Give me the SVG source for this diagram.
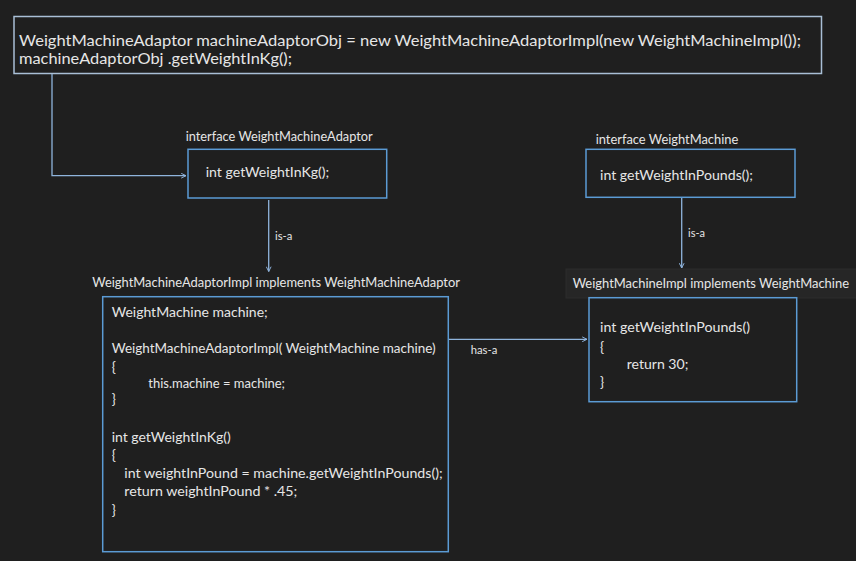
<svg xmlns="http://www.w3.org/2000/svg" width="856" height="561" viewBox="0 0 856 561">
  <defs>
    <marker id="arr" viewBox="0 0 10 10" refX="9" refY="5" markerWidth="6" markerHeight="6" markerUnits="userSpaceOnUse" orient="auto">
      <path d="M1,1 L9,5 L1,9" fill="none" stroke="#8fb4dc" stroke-width="1.6"/>
    </marker>
  </defs>
  <style>
    text { font-family: Lato, "Liberation Sans", sans-serif; fill: #e6e6e6; }
    .box { fill: #1f1f1f; stroke: #5b9bd5; stroke-width: 1.5; }
    .top { fill: #1f1f1f; stroke: #a9bfd6; stroke-width: 1.5; }
    .code { font-size: 13.6px; }
    .lbl { font-size: 12.6px; }
    .small { font-size: 11.5px; }
    .big { font-size: 16px; }
    .conn { fill: none; stroke: #8fb4dc; stroke-width: 1.3; marker-end: url(#arr); }
  </style>
  <rect x="0" y="0" width="856" height="561" fill="#1f1f1f"/>

  <g id="client">
    <rect class="top" x="14" y="16.5" width="807.5" height="57"/>
    <text class="big" x="19" y="45.5" textLength="782" lengthAdjust="spacingAndGlyphs">WeightMachineAdaptor machineAdaptorObj = new WeightMachineAdaptorImpl(new WeightMachineImpl());</text>
    <text class="big" x="19" y="64" textLength="273" lengthAdjust="spacingAndGlyphs">machineAdaptorObj .getWeightInKg();</text>
  </g>

  <g id="iface-adaptor">
    <text class="lbl" x="185.7" y="140.7" textLength="187" lengthAdjust="spacingAndGlyphs">interface WeightMachineAdaptor</text>
    <rect class="box" x="188" y="149.3" width="198.7" height="48.7"/>
    <text class="code" x="205.7" y="177" textLength="123.6" lengthAdjust="spacingAndGlyphs">int getWeightInKg();</text>
  </g>

  <g id="iface-machine">
    <text class="lbl" x="595.7" y="144" textLength="142.6" lengthAdjust="spacingAndGlyphs">interface WeightMachine</text>
    <rect class="box" x="586" y="149.3" width="209" height="48"/>
    <text class="code" x="600" y="180" textLength="153" lengthAdjust="spacingAndGlyphs">int getWeightInPounds();</text>
  </g>

  <g id="adaptor-impl">
    <text class="lbl" x="92.3" y="286.7" textLength="367.7" lengthAdjust="spacingAndGlyphs">WeightMachineAdaptorImpl implements WeightMachineAdaptor</text>
    <rect class="box" x="102.7" y="296.7" width="345.6" height="255"/>
    <text class="code" x="111.7" y="316.7" textLength="156" lengthAdjust="spacingAndGlyphs">WeightMachine machine;</text>
    <text class="code" x="111.7" y="353.3" textLength="324" lengthAdjust="spacingAndGlyphs">WeightMachineAdaptorImpl( WeightMachine machine)</text>
    <text class="code" x="111.7" y="371.7">{</text>
    <text class="code" x="148.3" y="387.7" textLength="136.7" lengthAdjust="spacingAndGlyphs">this.machine = machine;</text>
    <text class="code" x="111.7" y="404">}</text>
    <text class="code" x="111.7" y="441.7" textLength="119" lengthAdjust="spacingAndGlyphs">int getWeightInKg()</text>
    <text class="code" x="111.7" y="460">{</text>
    <text class="code" x="124.3" y="478.3" textLength="318.4" lengthAdjust="spacingAndGlyphs">int weightInPound = machine.getWeightInPounds();</text>
    <text class="code" x="124.3" y="496" textLength="173" lengthAdjust="spacingAndGlyphs">return weightInPound * .45;</text>
    <text class="code" x="111.7" y="515">}</text>
  </g>

  <g id="machine-impl">
    <rect x="566" y="269" width="292" height="29" fill="#262626" stroke="#2c2c2c" stroke-width="1"/>
    <text class="lbl" x="572.7" y="288" textLength="276.3" lengthAdjust="spacingAndGlyphs">WeightMachineImpl implements WeightMachine</text>
    <rect class="box" x="589" y="297.7" width="207.7" height="104"/>
    <text class="code" x="600" y="331.7" textLength="150" lengthAdjust="spacingAndGlyphs">int getWeightInPounds()</text>
    <text class="code" x="600" y="351.7">{</text>
    <text class="code" x="626.7" y="369" textLength="61.7" lengthAdjust="spacingAndGlyphs">return 30;</text>
    <text class="code" x="600" y="387">}</text>
  </g>

  <g id="connectors">
    <path class="conn" d="M52,74 L52,175.7 L186,175.7"/>
    <path class="conn" d="M268.7,200 L268.7,271.5"/>
    <text class="small" x="275" y="240" textLength="17.3" lengthAdjust="spacingAndGlyphs">is-a</text>
    <path class="conn" d="M681.7,198 L681.7,268"/>
    <text class="small" x="688" y="236.7" textLength="17" lengthAdjust="spacingAndGlyphs">is-a</text>
    <path class="conn" d="M449,339.3 L587,339.3"/>
    <text class="small" x="470.7" y="354" textLength="26.6" lengthAdjust="spacingAndGlyphs">has-a</text>
  </g>
</svg>
